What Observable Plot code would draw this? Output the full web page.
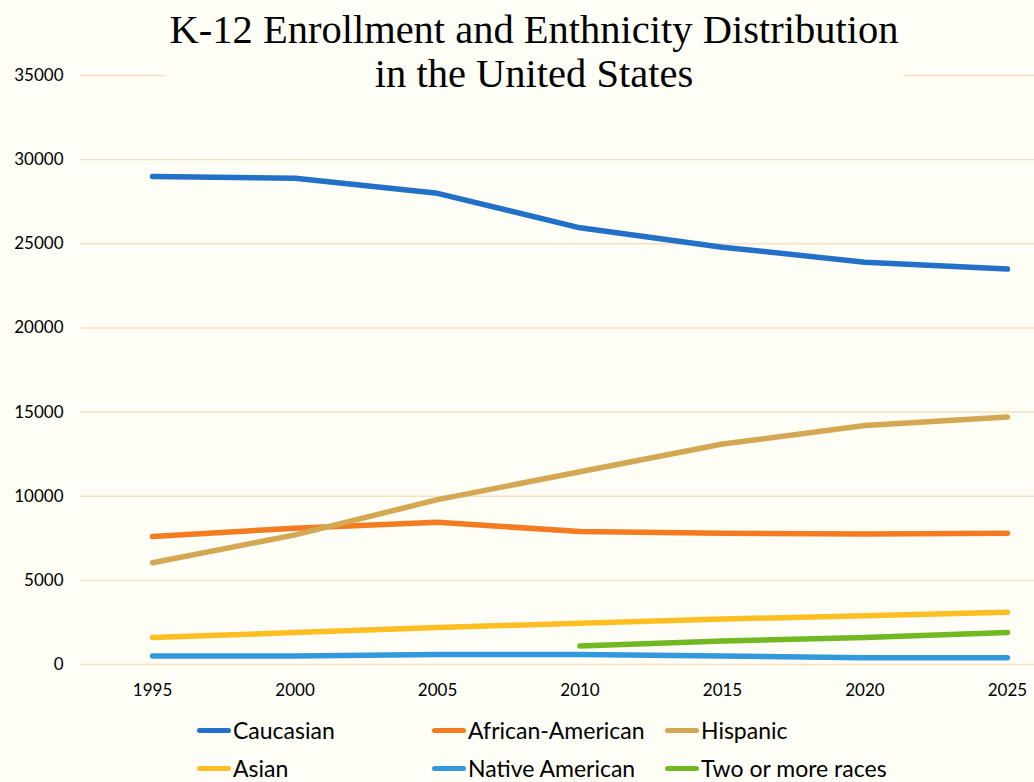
<!DOCTYPE html>
<html>
<head>
<meta charset="utf-8">
<script src="https://cdn.jsdelivr.net/npm/d3@7"></script>
<script src="https://cdn.jsdelivr.net/npm/@observablehq/plot@0.6"></script>
<style>
  html, body { margin: 0; padding: 0; background: #FEFEF7; width: 1034px; height: 782px; overflow: hidden; }
  #wrap { position: relative; width: 1034px; height: 782px; }
  #title { position: absolute; top: 0; left: 165px; width: 738px; background: #FEFEF7; text-align: center;
           font-family: "Liberation Serif", "DejaVu Serif", serif; font-size: 40.5px; line-height: 44px; padding-top: 8px; padding-bottom: 4px; color: #000; }
  #legend { position: absolute; left: 197px; top: 711px; display: grid; grid-template-columns: 235px 233px auto; grid-auto-rows: 38px; }
  .item { display: flex; align-items: center; font-family: Lato, "Open Sans", sans-serif; font-size: 23px; color: #000; }
  .sw { display: inline-block; width: 34px; height: 5px; border-radius: 3px; margin-right: 2px; }
</style>
</head>
<body>
<div id="wrap">
  <div id="chart"></div>
  <div id="title">K-12 Enrollment and Enthnicity Distribution<br>in the United States</div>
  <div id="legend"></div>
</div>
<script>
const years = [1995, 2000, 2005, 2010, 2015, 2020, 2025];
const seriesNames = ["Caucasian", "African-American", "Hispanic", "Asian", "Native American", "Two or more races"];
const caucasian = [29000, 28900, 28000, 25950, 24800, 23900, 23500];
const africanAmerican = [7600, 8100, 8450, 7900, 7800, 7750, 7800];
const hispanic = [6050, 7700, 9800, 11450, 13100, 14200, 14700];
const asian = [1600, 1900, 2200, 2450, 2700, 2900, 3100];
const nativeAmerican = [500, 500, 600, 600, 500, 400, 400];
const twoOrMore = [null, null, null, 1100, 1400, 1600, 1900];
const yTicks = [0, 5000, 10000, 15000, 20000, 25000, 30000, 35000];
const colors = ["#2370C8", "#F47B20", "#D4A853", "#FFBE22", "#3399DB", "#72B823"];

const allValues = [caucasian, africanAmerican, hispanic, asian, nativeAmerican, twoOrMore];
const data = [];
seriesNames.forEach((name, i) => {
  allValues[i].forEach((v, j) => {
    if (v != null) data.push({series: name, year: years[j], value: v});
  });
});

const chart = Plot.plot({
  width: 1034,
  height: 710,
  marginLeft: 80,
  marginRight: 0,
  marginTop: 75,
  marginBottom: 46,
  style: {fontFamily: "Lato, 'Open Sans', sans-serif", background: "transparent", color: "#000"},
  x: {domain: [1992.47, 2025.95]},
  y: {domain: [0, 35000]},
  color: {domain: seriesNames, range: colors},
  marks: [
    Plot.ruleY(yTicks, {stroke: "#F8DFBF", strokeWidth: 1.4}),
    Plot.axisY({ticks: yTicks, tickSize: 0, tickPadding: 17, fontSize: 17, tickFormat: d3.format("d"), label: null}),
    Plot.axisX({ticks: years, tickSize: 0, tickPadding: 19, fontSize: 17, tickFormat: d => String(d), label: null}),
    Plot.line(data, {x: "year", y: "value", z: "series", stroke: "series", strokeWidth: 5.5,
      strokeLinecap: "round", strokeLinejoin: "round", curve: "linear"})
  ]
});
document.getElementById("chart").appendChild(chart);

const legend = document.getElementById("legend");
seriesNames.forEach((name, i) => {
  const it = document.createElement("div");
  it.className = "item";
  it.innerHTML = `<span class="sw" style="background:${colors[i]}"></span><span>${name}</span>`;
  legend.appendChild(it);
});
</script>
</body>
</html>
